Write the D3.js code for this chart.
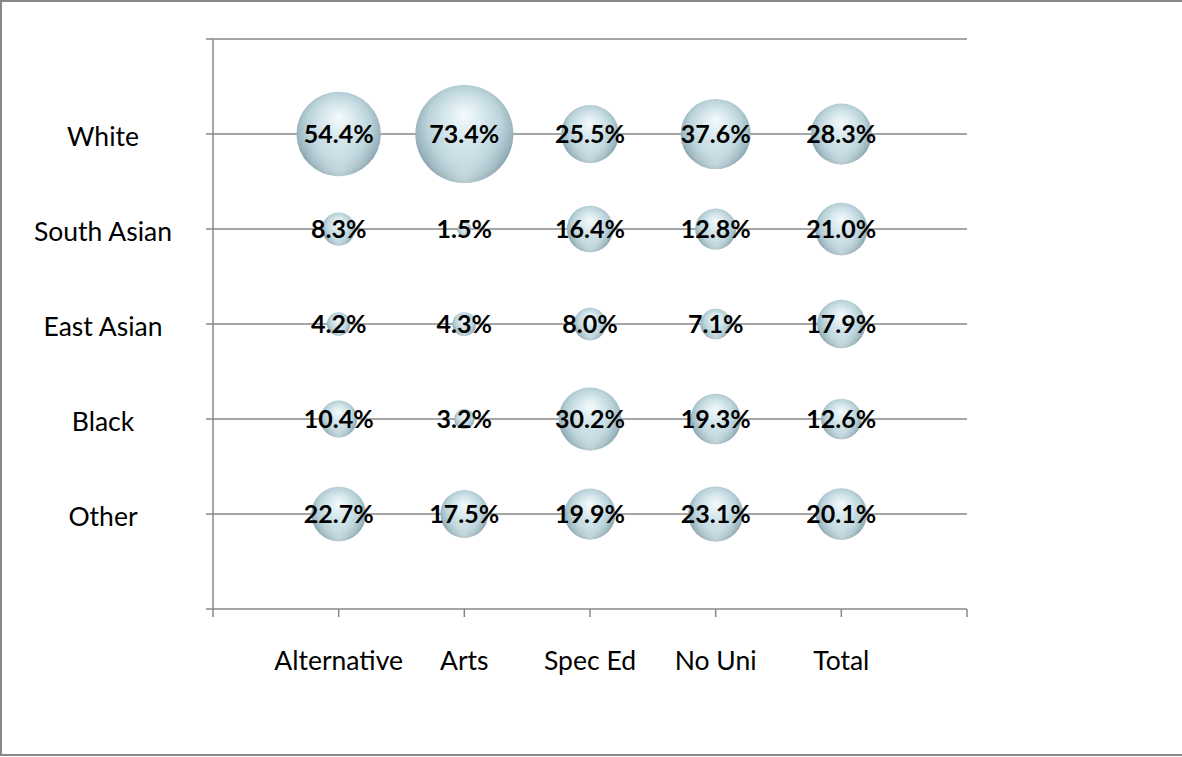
<!DOCTYPE html>
<html><head><meta charset="utf-8">
<script src="https://cdn.jsdelivr.net/npm/d3@7"></script>
<style>body{margin:0;background:#fff}svg{display:block}</style>
</head><body><svg id="c" width="1182" height="757"></svg>
<script>
const categories = ["Alternative", "Arts", "Spec Ed", "No Uni", "Total"];
const groups = ["White", "South Asian", "East Asian", "Black", "Other"];
const white = [54.4, 73.4, 25.5, 37.6, 28.3];
const southAsian = [8.3, 1.5, 16.4, 12.8, 21.0];
const eastAsian = [4.2, 4.3, 8.0, 7.1, 17.9];
const black = [10.4, 3.2, 30.2, 19.3, 12.6];
const other = [22.7, 17.5, 19.9, 23.1, 20.1];
const seriesValues = [white, southAsian, eastAsian, black, other];

const svg = d3.select("#c");
const font = "'Lato','Open Sans',sans-serif";
const grid = "#888";

svg.append("rect").attr("x", 1).attr("y", 1).attr("width", 1190).attr("height", 754)
  .attr("fill", "#fff").attr("stroke", "#888").attr("stroke-width", 2);

const x = d3.scaleLinear().domain([0, 6]).range([213, 967]);
const y = d3.scaleLinear().domain([0, 6]).range([609, 39]);
const r = d3.scaleSqrt().domain([0, 73.4]).range([0, 49]);

const defs = svg.append("defs");
const g = defs.append("radialGradient").attr("id", "bub")
  .attr("cx", "50%").attr("cy", "45%").attr("r", "55%").attr("fx", "50%").attr("fy", "30%");
[[0, "#f4fafb"], [0.35, "#d8e9ee"], [0.7, "#b9d2d9"], [0.9, "#9ab4bd"], [1, "#7f99a3"]]
  .forEach(([o, c]) => g.append("stop").attr("offset", o).attr("stop-color", c));
const g2 = defs.append("radialGradient").attr("id", "refl")
  .attr("cx", "50%").attr("cy", "95%").attr("r", "45%");
g2.append("stop").attr("offset", 0).attr("stop-color", "#e8f5f8").attr("stop-opacity", 0.55);
g2.append("stop").attr("offset", 1).attr("stop-color", "#e8f5f8").attr("stop-opacity", 0);

// gridlines
const yTicks = d3.range(0, 7);
svg.append("g").selectAll("line").data(yTicks.filter(d => d > 0)).join("line")
  .attr("x1", 206).attr("x2", x(6)).attr("y1", d => y(d)).attr("y2", d => y(d))
  .attr("stroke", grid).attr("stroke-width", 1.5);
svg.append("line").attr("x1", x(0)).attr("x2", x(0)).attr("y1", y(6)).attr("y2", y(0))
  .attr("stroke", grid).attr("stroke-width", 1.5);
svg.append("line").attr("x1", 206).attr("x2", x(6)).attr("y1", y(0)).attr("y2", y(0))
  .attr("stroke", grid).attr("stroke-width", 1.5);
svg.append("g").selectAll("line").data(d3.range(0, 7)).join("line")
  .attr("x1", d => x(d)).attr("x2", d => x(d)).attr("y1", y(0)).attr("y2", 617)
  .attr("stroke", grid).attr("stroke-width", 1.5);

// category labels
svg.append("g").selectAll("text").data(categories).join("text")
  .attr("x", (d, i) => x(i + 1)).attr("y", 670).attr("text-anchor", "middle")
  .attr("font-family", font).attr("font-size", 26.5).attr("fill", "#000").text(d => d);
// group labels
svg.append("g").selectAll("text").data(groups).join("text")
  .attr("x", 103).attr("y", (d, i) => y(5 - i) + 12).attr("text-anchor", "middle")
  .attr("font-family", font).attr("font-size", 26.5).attr("fill", "#000").text(d => d);

const pts = [];
seriesValues.forEach((vals, gi) => vals.forEach((v, ci) => pts.push({g: gi, c: ci, v})));

const b = svg.append("g").selectAll("g").data(pts).join("g")
  .attr("transform", d => `translate(${x(d.c + 1)},${y(5 - d.g)})`);
b.append("circle").attr("r", d => r(d.v)).attr("fill", "url(#bub)");
b.append("circle").attr("r", d => r(d.v)).attr("fill", "url(#refl)");
b.append("text").attr("text-anchor", "middle").attr("dy", "0.36em")
  .attr("font-family", font).attr("font-weight", "bold").attr("font-size", 25)
  .attr("fill", "#000").text(d => d.v.toFixed(1) + "%");
</script></body></html>
